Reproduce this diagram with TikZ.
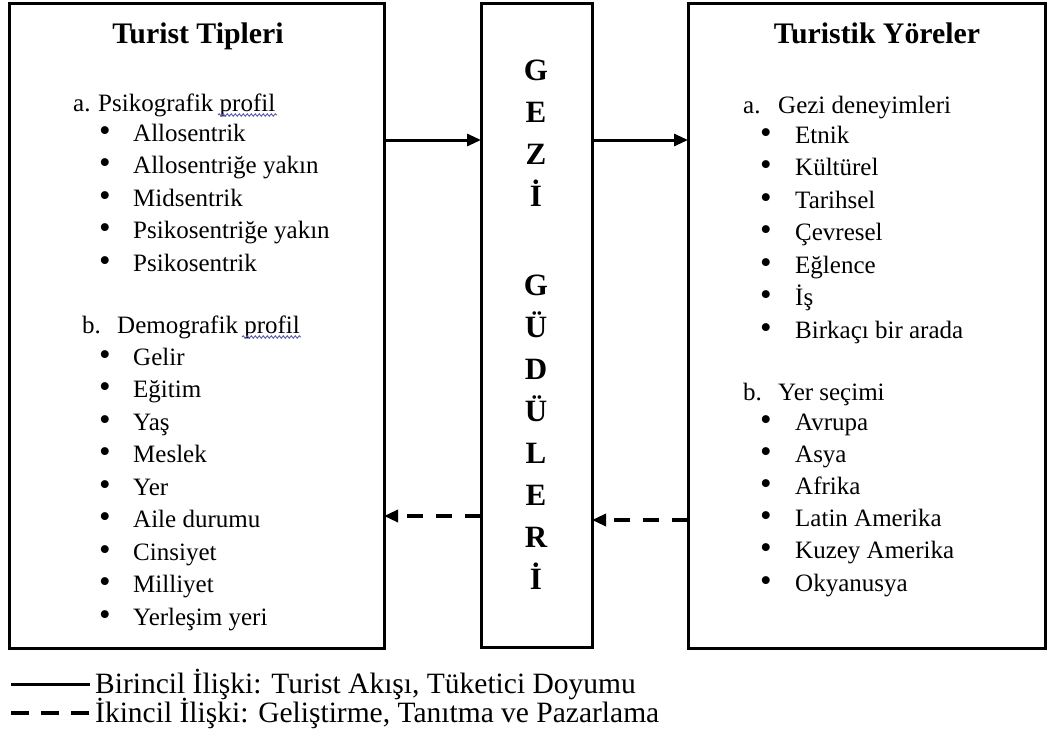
\documentclass[tikz,border=0pt]{standalone}
\usepackage{fontspec}
\setmainfont{Liberation Serif}
\usetikzlibrary{arrows.meta,decorations.pathmorphing}
\definecolor{spell}{HTML}{5A5AA8}
\begin{document}
\begin{tikzpicture}[x=1pt,y=-1pt,
  box/.style={draw,line width=3pt,inner sep=0,outer sep=0,anchor=north west},
  itemtxt/.style={anchor=base west,inner sep=0,font=\fontsize{25}{28}\selectfont},
  bul/.style={anchor=base,inner sep=0,font=\fontsize{33}{28}\selectfont},
  ttl/.style={anchor=base,inner sep=0,font=\fontsize{29.8}{32}\selectfont\bfseries},
  midletter/.style={anchor=base,inner sep=0,font=\fontsize{31}{32}\selectfont\bfseries},
  legtxt/.style={anchor=base west,inner sep=0,font=\fontsize{29.5}{32}\selectfont},
  solidarrow/.style={line width=3pt,-{Triangle[length=14pt,width=12pt]}},
  dasharrow/.style={line width=3.2pt,dash pattern=on 16pt off 13pt,-{Triangle[length=14pt,width=12pt]}},
  wavy/.style={spell,line width=0.9pt,decorate,decoration={snake,amplitude=1.2pt,segment length=4pt}}
]
\useasboundingbox (0,0) rectangle (1056,736);

% boxes
\node[box,minimum width=375pt,minimum height=645pt] (L) at (9,3) {};
\node[box,minimum width=111pt,minimum height=644pt] (M) at (481,3) {};
\node[box,minimum width=357pt,minimum height=645pt] (R) at (688,3) {};

% left box content
\node[ttl] (lt) at (198,43) {Turist Tipleri};
\node[itemtxt] (lan) at (73,111) {a.};
\node[itemtxt] (lah) at (98,111) {Psikografik profil};
\foreach \t [count=\i from 0] in {Allosentrik,Allosentriğe yakın,Midsentrik,Psikosentriğe yakın,Psikosentrik}{
  \node[bul] (lab\i) at (105,{141+32.5*\i}) {\textbullet};
  \node[itemtxt] (la\i) at (133,{141+32.5*\i}) {\t};
}
\node[itemtxt] (lbn) at (82,333) {b.};
\node[itemtxt] (lbh) at (117,333) {Demografik profil};
\foreach \t [count=\i from 0] in {Gelir,Eğitim,Yaş,Meslek,Yer,Aile durumu,Cinsiyet,Milliyet,Yerleşim yeri}{
  \node[bul] (lbb\i) at (105,{365+32.5*\i}) {\textbullet};
  \node[itemtxt] (lb\i) at (133,{365+32.5*\i}) {\t};
}
\draw[wavy] (218,115) -- (277,115);
\draw[wavy] (242,337) -- (301,337);

% middle letters
\foreach \l [count=\i from 0] in {G,E,Z,İ}{
  \node[midletter] (mt\i) at (536,{80+42.3*\i}) {\l};
}
\foreach \l [count=\i from 0] in {G,Ü,D,Ü,L,E,R,İ}{
  \node[midletter] (mb\i) at (536,{295+42.1*\i}) {\l};
}

% right box content
\node[ttl] (rt) at (877,43) {Turistik Yöreler};
\node[itemtxt] (ran) at (743,113) {a.};
\node[itemtxt] (rah) at (778,113) {Gezi deneyimleri};
\foreach \t [count=\i from 0] in {Etnik,Kültürel,Tarihsel,Çevresel,Eğlence,İş,Birkaçı bir arada}{
  \node[bul] (rab\i) at (766,{143+32.5*\i}) {\textbullet};
  \node[itemtxt] (ra\i) at (795,{143+32.5*\i}) {\t};
}
\node[itemtxt] (rbn) at (743,400) {b.};
\node[itemtxt] (rbh) at (778,400) {Yer seçimi};
\foreach \t [count=\i from 0] in {Avrupa,Asya,Afrika,Latin Amerika,Kuzey Amerika,Okyanusya}{
  \node[bul] (rbb\i) at (766,{430+32.2*\i}) {\textbullet};
  \node[itemtxt] (rb\i) at (795,{430+32.2*\i}) {\t};
}

% connectors
\coordinate (ys) at (0,140);
\coordinate (yd1) at (0,516);
\coordinate (yd2) at (0,520);
\draw[solidarrow] (L.east |- ys) -- (M.west |- ys);
\draw[solidarrow] (M.east |- ys) -- (R.west |- ys);
\draw[dasharrow] (M.west |- yd1) -- (L.east |- yd1);
\draw[dasharrow] (R.west |- yd2) -- (M.east |- yd2);

% legend
\node[legtxt] (lg1) at (95,693) {Birincil İlişki: Turist Akışı, Tüketici Doyumu};
\node[legtxt] (lg2) at (95,722) {İkincil İlişki: Geliştirme, Tanıtma ve Pazarlama};
\coordinate (ls1) at (11,684);
\coordinate (ls2) at (11,713);
\coordinate (le1) at (90,684);
\coordinate (le2) at (90,713);
\draw[line width=3pt] (ls1) -- (le1);
\draw[line width=3.2pt,dash pattern=on 18pt off 12pt] (ls2) -- (le2);
\end{tikzpicture}
\end{document}
